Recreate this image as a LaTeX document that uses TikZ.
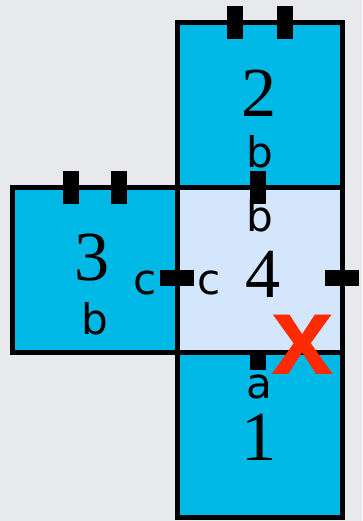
\documentclass[tikz,border=0pt]{standalone}
\usepackage{fontspec}
\setmainfont{Liberation Serif}
\newfontfamily\lblfont{DejaVu Sans}
\newfontfamily\markfont{Liberation Sans}
\usetikzlibrary{
  positioning,
  calc
}
\definecolor{netcyan}{HTML}{00B8E6}
\definecolor{netpale}{HTML}{D4E6FB}
\definecolor{netred}{HTML}{FF2A00}
\definecolor{netbg}{HTML}{E8E9EC}

\begin{document}
\begin{tikzpicture}[
      face/.style={
        rectangle, minimum size=4.125cm, inner sep=0pt, outer sep=0pt,
        draw=black, line width=0.125cm, fill=netcyan
      },
      tickv/.style={rectangle, fill=black, inner sep=0pt,
        minimum width=0.4cm, minimum height=0.825cm},
      tickh/.style={rectangle, fill=black, inner sep=0pt,
        minimum width=0.85cm, minimum height=0.4cm},
      num/.style={font=\fontsize{50}{50}\selectfont, inner sep=0pt},
      edge/.style={font=\lblfont\fontsize{30}{30}\selectfont, inner sep=0pt}
    ]
      \fill[netbg] (0,0) rectangle (9.05,-13.025);
      \useasboundingbox (0,0) rectangle (9.05,-13.025);

      \node[face, fill=netpale] (face4) at (6.4875,-6.75) {};
      \node[face, above=0pt of face4] (face2) {};
      \node[face, below=0pt of face4] (face1) {};
      \node[face, left=0pt of face4] (face3) {};

      % tabs
      \node[tickv] (tab2a) at ([xshift=-0.625cm]face2.north) {};
      \node[tickv] (tab2b) at ([xshift=0.625cm]face2.north) {};
      \node[tickv] (tab3a) at ([xshift=-0.6cm]face3.north) {};
      \node[tickv] (tab3b) at ([xshift=0.6cm]face3.north) {};
      \node[tickv] (tab24) at ([xshift=-0.05cm]face4.north) {};
      \node[tickh] (tab34) at ([yshift=-0.2cm]face3.east) {};
      \node[tickh] (tab4r) at ([yshift=-0.2cm]face4.east) {};
      \node[tickv, minimum height=0.425cm, anchor=north] (tab41)
        at ([xshift=-0.05cm]face1.north) {};

      % numbers
      \node[num] (lbl2) at ([yshift=0.3cm]face2.center) {2};
      \node[num] (lbl3) at ([xshift=-0.06cm,yshift=0.3cm]face3.center) {3};
      \node[num] (lbl4) at ([xshift=0.08cm,yshift=-0.1cm]face4.center) {4};
      \node[num] (lbl1) at ([yshift=-0.06cm]face1.center) {1};

      % edge letters
      \node[edge] (b2) at ([yshift=-1.175cm]face2.center) {b};
      \node[edge] (b3) at ([xshift=0.02cm,yshift=-1.225cm]face3.center) {b};
      \node[edge] (b4) at ([yshift=1.35cm]face4.center) {b};
      \node[edge] (c3) at ([xshift=-0.8cm,yshift=-0.33cm]face3.east) {c};
      \node[edge] (c4) at ([xshift=0.8cm,yshift=-0.33cm]face4.west) {c};
      \node[edge] (a1) at ([yshift=1.2cm]face1.center) {a};

      \node[font=\markfont\bfseries\fontsize{80}{80}\selectfont, text=netred, inner sep=0pt]
        (cross) at ([xshift=1.09cm,yshift=-1.875cm]face4.center) {x};
    \end{tikzpicture}
\end{document}
